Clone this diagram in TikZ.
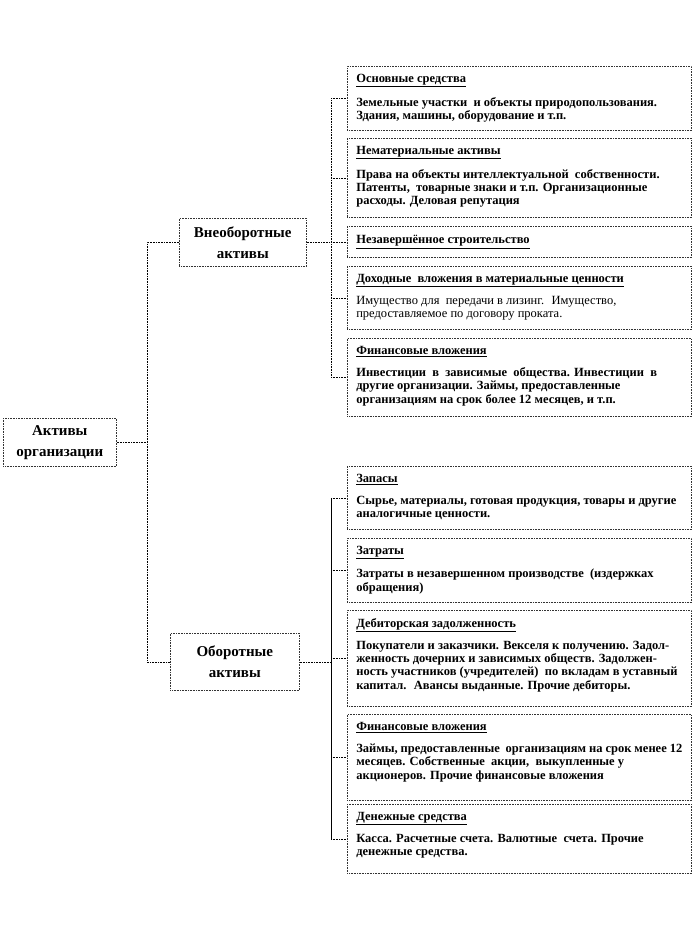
\documentclass[tikz,border=0pt]{standalone}
\usepackage{fontspec}
\setmainfont{Liberation Serif}
\usepackage{tikz}
\usetikzlibrary{positioning}
\definecolor{inkgray}{HTML}{333333}

% text inside the right-hand boxes: height, heading, body
\newcommand{\itemtext}[3]{\parbox[c][#1pt][t]{326pt}{\vspace*{8pt}%
  \fontsize{12.5}{13.2}\selectfont\textbf{\underline{#2}}\par\vspace{9pt}#3}}

\begin{document}
\begin{tikzpicture}[x=1pt, y=-1pt, line width=0.6pt,
  itembox/.style={draw=inkgray, densely dotted, anchor=north west,
    inner xsep=9pt, inner ysep=0pt, minimum width=344pt},
  groupbox/.style={draw=inkgray, densely dotted, anchor=north west,
    align=center, inner sep=0pt, font=\fontsize{15}{21}\selectfont\bfseries},
  link/.style={black, densely dotted},
  bus/.style={black}]
  \useasboundingbox (0,0) rectangle (694,932);

  % left side
  \node[groupbox, minimum width=113pt, minimum height=48pt] (act) at (3,418) {Активы\\организации};
  \node[groupbox, minimum width=127pt, minimum height=48pt] (vneob) at (179,218) {Внеоборотные\\активы};
  \node[groupbox, minimum width=129pt, minimum height=57pt] (ob) at (170,633) {Оборотные\\активы};

  % non-current assets
  \node[itembox] (os) at (347,66) {\itemtext{64}{Основные средства}
    {\bfseries Земельные участки \ и объекты природопользования.\\ Здания, машины, оборудование и т.п.}};
  \node[itembox] (nm) at (347,138) {\itemtext{79}{Нематериальные активы}
    {\bfseries Права на объекты интеллектуальной \ собственности.\\ Патенты, \ товарные знаки и т.п. Организационные\\ расходы. Деловая репутация}};
  \node[itembox, minimum height=31pt, align=left, font=\fontsize{12.5}{13.2}\selectfont\bfseries] (ns) at (347,226)
    {\parbox{326pt}{\underline{Незавершённое строительство}}};
  \node[itembox] (dv) at (347,266) {\itemtext{63}{Доходные \ вложения в материальные ценности}
    {Имущество для \ передачи в лизинг. \ Имущество,\\ предоставляемое по договору проката.}};
  \node[itembox] (fv) at (347,338) {\itemtext{78}{Финансовые вложения}
    {\bfseries Инвестиции \ в \ зависимые \ общества. Инвестиции \ в\\ другие организации. Займы, предоставленные\\ организациям на срок более 12 месяцев, и т.п.}};

  % current assets
  \node[itembox] (zp) at (347,466) {\itemtext{63}{Запасы}
    {\bfseries Сырье, материалы, готовая продукция, товары и другие\\ аналогичные ценности.}};
  \node[itembox] (zt) at (347,538) {\itemtext{64}{Затраты}
    {\bfseries Затраты в незавершенном производстве \ (издержках\\ обращения)}};
  \node[itembox] (dz) at (347,610) {\itemtext{96}{Дебиторская задолженность}
    {\bfseries Покупатели и заказчики. Векселя к получению. Задол-\\женность дочерних и зависимых обществ. Задолжен-\\ность участников (учредителей) \ по вкладам в уставный\\ капитал. \ Авансы выданные. Прочие дебиторы.}};
  \node[itembox] (fk) at (347,714) {\itemtext{86}{Финансовые вложения}
    {\bfseries Займы, предоставленные \ организациям на срок менее 12\\ месяцев. Собственные \ акции, \ выкупленные у\\ акционеров. Прочие финансовые вложения}};
  \node[itembox] (ds) at (347,804) {\itemtext{69}{Денежные средства}
    {\bfseries Касса. Расчетные счета. Валютные \ счета. Прочие\\ денежные средства.}};

  % connectors
  \coordinate (bx0) at (147,0);
  \coordinate (bx1) at (331,0);
  \draw[link] (act.east) -- (act.east -| bx0);
  \draw[link] (vneob.west) -- (vneob.west -| bx0) -- (ob.west -| bx0) -- (ob.west);
  \draw[link] (vneob.east) -- (vneob.east -| bx1);
  \draw[link] (ob.east) -- (ob.east -| bx1);
  \draw[link] (os.west -| bx1) -- (fv.west -| bx1);
  \draw[bus] (zp.west -| bx1) -- (ds.west -| bx1);
  \foreach \b in {os,nm,ns,dv,fv,zp,zt,dz,fk,ds}
    \draw[link] (\b.west -| bx1) -- (\b.west);
\end{tikzpicture}
\end{document}
